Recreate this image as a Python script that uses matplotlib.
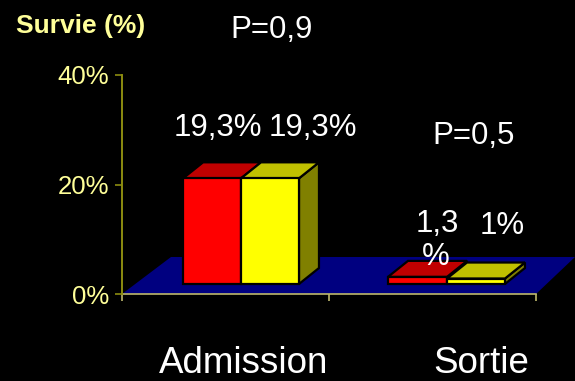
import matplotlib
matplotlib.use("Agg")
import matplotlib.pyplot as plt
from matplotlib.patches import Polygon

categories = ["Admission", "Sortie"]
red_values = [19.3, 1.3]
yellow_values = [19.3, 1.0]
red_labels = ["19,3%", "1,3\n%"]
yellow_labels = ["19,3%", "1%"]
y_ticks = [0, 20, 40]
y_tick_labels = ["0%", "20%", "40%"]

W, H = 575, 381
AX_L, AX_R, AX_T, AX_B = 122, 536, 75, 294

plt.rcParams["font.family"] = ["Liberation Sans", "DejaVu Sans"]
fig = plt.figure(figsize=(W / 100, H / 100), dpi=100, facecolor="black")
ax = fig.add_axes([AX_L / W, 1 - AX_B / H, (AX_R - AX_L) / W, (AX_B - AX_T) / H])
ax.set_facecolor("none")
ax.set_xlim(0, 2)
ax.set_ylim(0, 40)

px_x = 2 / (AX_R - AX_L)
px_y = 40 / (AX_B - AX_T)

# Blue floor of the 3D chart
ax.add_patch(Polygon([(0, 0), (49 * px_x, 37 * px_y), (2 + 39 * px_x, 37 * px_y), (2, 0)],
                     closed=True, fc="#000080", ec="none", clip_on=False, zorder=1))


def box(left, width, value, front, top, side):
    """Draw one extruded bar from its value."""
    base = 10 * px_y
    dx, dy = 20 * px_x, 16 * px_y
    right = left + width
    y1 = base + value
    edge = dict(ec="black", lw=1.6, joinstyle="miter", clip_on=False, zorder=3)
    ax.add_patch(Polygon([(right, base), (right + dx, base + dy), (right + dx, y1 + dy), (right, y1)],
                         closed=True, fc=side, **edge))
    ax.add_patch(Polygon([(left, y1), (left + dx, y1 + dy), (right + dx, y1 + dy), (right, y1)],
                         closed=True, fc=top, **edge))
    ax.add_patch(Polygon([(left, base), (left, y1), (right, y1), (right, base)],
                         closed=True, fc=front, **edge))


bar_width = 0.28
offsets = [(0.295, 0.575), (1.285, 1.57)]
for i in range(len(categories)):
    left_red, left_yellow = offsets[i]
    # The yellow box sits in front of the red one's side face
    box(left_red, left_yellow - left_red, red_values[i], "#FF0000", "#C00000", "#800000")
    box(left_yellow, bar_width, yellow_values[i], "#FFFF00", "#C0C000", "#808000")

# Axes lines and ticks
for name in ("top", "right"):
    ax.spines[name].set_visible(False)
ax.spines["left"].set_color("#8C8C10")
ax.spines["left"].set_linewidth(1.4)
ax.spines["bottom"].set_color("#BDB76B")
ax.spines["bottom"].set_linewidth(1.2)
ax.spines["bottom"].set_zorder(2)
ax.set_yticks(y_ticks, y_tick_labels, color="#FFFF99", fontsize=18.5)
ax.tick_params(axis="y", direction="out", length=5, width=1.2, color="#8C8C10", pad=4.5)
ax.set_xticks([0, 1, 2], ["", "", ""])
ax.tick_params(axis="x", direction="out", length=5, width=1.2, color="#BDB76B")


# Text placed in pixel coordinates of the figure
def label(x, y, s, **kw):
    kw.setdefault("color", "white")
    kw.setdefault("ha", "center")
    kw.setdefault("va", "center")
    fig.text(x / W, 1 - y / H, s, **kw)


label(81, 26, "Survie (%)", color="#FFFF99", fontsize=19, fontweight="bold")
label(272, 29.5, "P=0,9", fontsize=22.5)
label(474, 136, "P=0,5", fontsize=22.5)
label(218, 128, red_labels[0], fontsize=22.5)
label(313, 128, yellow_labels[0], fontsize=22.5)
label(437, 224, red_labels[1].split("\n")[0], fontsize=22.5, zorder=5)
label(436, 257, red_labels[1].split("\n")[1], fontsize=22.5, zorder=5)
label(502, 226, yellow_labels[1], fontsize=22.5)
label(244, 373, categories[0], fontsize=26.5, va="baseline")
label(481, 373, categories[1], fontsize=26.5, va="baseline")

fig.savefig("out.png", dpi=100, facecolor="black")
